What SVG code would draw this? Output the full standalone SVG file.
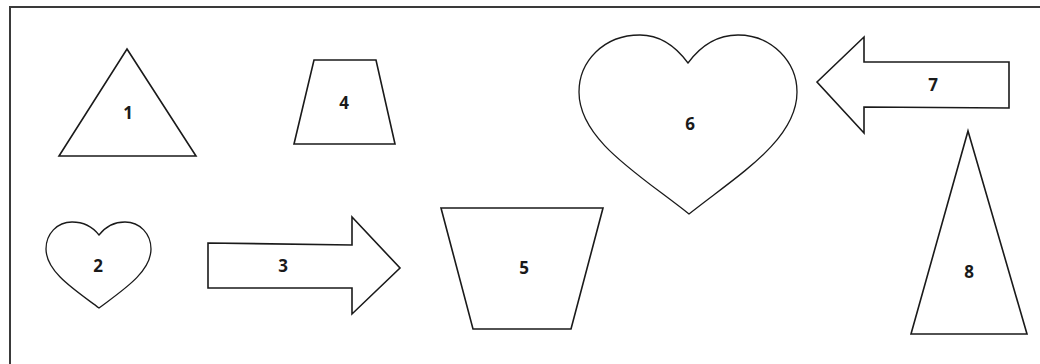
<svg xmlns="http://www.w3.org/2000/svg" width="1040" height="364" viewBox="0 0 1040 364">
<style>
.s{fill:#fff;stroke:#1a1a1a;stroke-width:1.6;stroke-linejoin:miter}
.h{fill:#fff;stroke:#1a1a1a;stroke-width:1.3}
.t{font-family:"Open Sans","Liberation Sans",sans-serif;font-weight:bold;font-size:17px;fill:#1a1a1a;text-anchor:middle}
</style>
<rect x="0" y="0" width="1040" height="364" fill="#fff"/>
<path d="M10,364 V7 H1040" fill="none" stroke="#3a3a3a" stroke-width="2"/>
<g id="node1"><polygon class="s" points="127,49 196,156 59,156"/><text class="t" x="128" y="119">1</text></g>
<g id="node2"><path class="h" d="M99,235 C92,226 83,222 72,222 C57,222 46,234 46,249 C46,272 75,290 99,308 C123,290 151,272 151,249 C151,234 140,222 125,222 C114,222 106,226 99,235 Z"/><text class="t" x="98" y="272">2</text></g>
<g id="node3"><polygon class="s" points="208,243 352,245 352,217 400,268 352,314 352,288 208,288"/><text class="t" x="283" y="272">3</text></g>
<g id="node4"><polygon class="s" points="314,60 376,60 395,144 294,144"/><text class="t" x="344" y="109">4</text></g>
<g id="node5"><polygon class="s" points="441,208 603,208 571,329 473,329"/><text class="t" x="524" y="274">5</text></g>
<g id="node6"><path class="h" d="M688,63 C674,44 658,35 640,35 C603,35 579,62 579,92 C579,140 640,175 689,214 C738,175 797,140 797,92 C797,62 772,35 738,35 C720,35 702,44 688,63 Z"/><text class="t" x="690" y="130">6</text></g>
<g id="node7"><polygon class="s" points="817,82 864,37 864,62 1009,62 1009,108 864,107 864,133"/><text class="t" x="933" y="91">7</text></g>
<g id="node8"><polygon class="s" points="968,131 1027,334 911,334"/><text class="t" x="969" y="278">8</text></g>
<g id="connectors"/>
</svg>
